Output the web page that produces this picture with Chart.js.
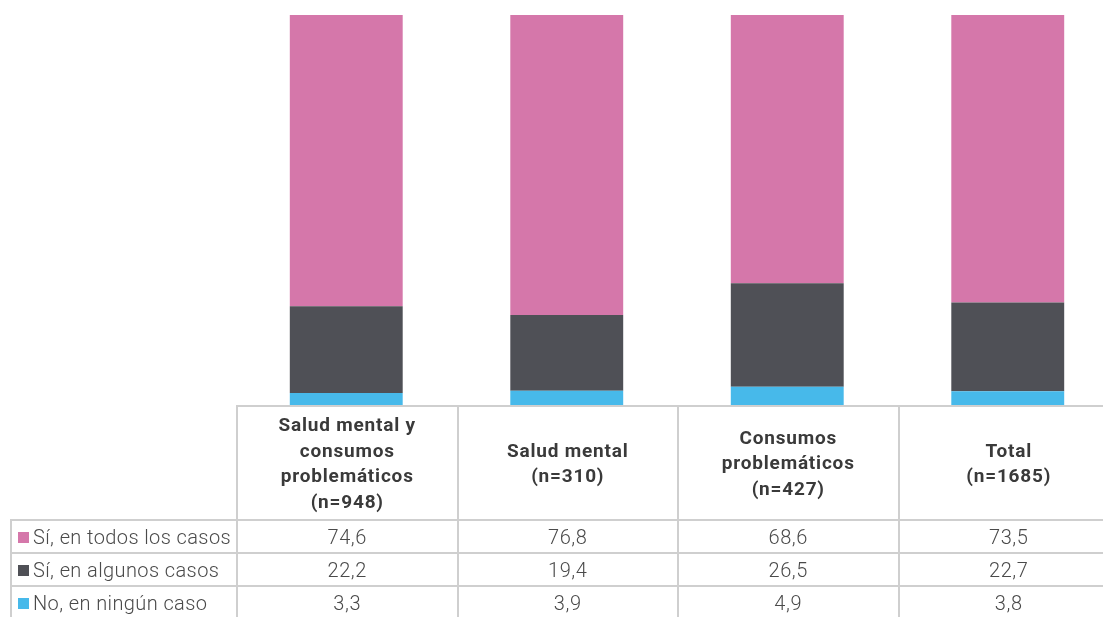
<!DOCTYPE html>
<html>
<head>
<meta charset="utf-8">
<script src="https://cdn.jsdelivr.net/npm/chart.js@4"></script>
<style>
  html, body { margin: 0; padding: 0; background: #fff; overflow: hidden; width: 1103px; height: 617px; }
  #wrap { position: absolute; left: 236px; top: 0; width: 882px; height: 406px; }
  #tabla { position: absolute; left: 10px; top: 405px; border-collapse: collapse; table-layout: fixed;
           font-family: Roboto, "Noto Sans", sans-serif; color: #444; }
  #tabla td, #tabla th { border: 2px solid #cfcfcf; padding: 0; text-align: center; }
  #tabla th { font-weight: 700; font-size: 19px; line-height: 25.5px; letter-spacing: 0.8px; color: #3a3a3a; height: 112px; }
  #tabla th.vacio { border: none; }
  #tabla td { font-weight: 300; font-size: 20px; letter-spacing: 0.6px; height: 31px; color: #4a4a4a; }
  #tabla td.etq { text-align: left; padding-left: 6px; white-space: nowrap; letter-spacing: 0.4px; }
  .sw { display: inline-block; width: 11px; height: 11px; margin-right: 4px; vertical-align: 1px; }
</style>
</head>
<body>
<div id="wrap"><canvas id="grafico"></canvas></div>
<table id="tabla"></table>
<script>
// categorías y series
const categorias = [
  ['Salud mental y', 'consumos', 'problemáticos', '(n=948)'],
  ['Salud mental', '(n=310)'],
  ['Consumos', 'problemáticos', '(n=427)'],
  ['Total', '(n=1685)']
];
const series = ['Sí, en todos los casos', 'Sí, en algunos casos', 'No, en ningún caso'];
const todos = [74.6, 76.8, 68.6, 73.5];
const algunos = [22.2, 19.4, 26.5, 22.7];
const ninguno = [3.3, 3.9, 4.9, 3.8];
const colores = ['#d577aa', '#4f5056', '#47b9ea'];

const ctx = document.getElementById('grafico').getContext('2d');
const chart = new Chart(ctx, {
  type: 'bar',
  data: {
    labels: categorias.map(c => c.join(' ')),
    datasets: [
      { label: series[2], data: ninguno, backgroundColor: colores[2] },
      { label: series[1], data: algunos, backgroundColor: colores[1] },
      { label: series[0], data: todos, backgroundColor: colores[0] }
    ]
  },
  options: {
    responsive: true,
    maintainAspectRatio: false,
    animation: false,
    layout: { padding: { top: 15, bottom: 0, left: 0, right: 0 } },
    datasets: { bar: { categoryPercentage: 1, barPercentage: 0.512, borderWidth: 0 } },
    scales: {
      x: { stacked: true, display: false },
      y: { stacked: true, display: false, min: 0, max: 100 }
    },
    plugins: { legend: { display: false }, tooltip: { enabled: false } }
  }
});

// tabla de datos alineada con la escala x
const xs = chart.scales.x;
const anchoCol = (xs.right - xs.left) / categorias.length;
const tabla = document.getElementById('tabla');
let html = '<colgroup><col style="width:' + (236 - 10) + 'px">';
categorias.forEach(() => { html += '<col style="width:' + anchoCol + 'px">'; });
html += '</colgroup><tr><th class="vacio"></th>';
categorias.forEach(c => { html += '<th>' + c.join('<br>') + '</th>'; });
html += '</tr>';
const valores = [todos, algunos, ninguno];
series.forEach((s, i) => {
  html += '<tr><td class="etq"><span class="sw" style="background:' + colores[i] + '"></span>' + s + '</td>';
  valores[i].forEach(v => { html += '<td>' + v.toFixed(1).replace('.', ',') + '</td>'; });
  html += '</tr>';
});
tabla.innerHTML = html;
tabla.style.width = (236 - 10 + anchoCol * categorias.length) + 'px';
</script>
</body>
</html>
